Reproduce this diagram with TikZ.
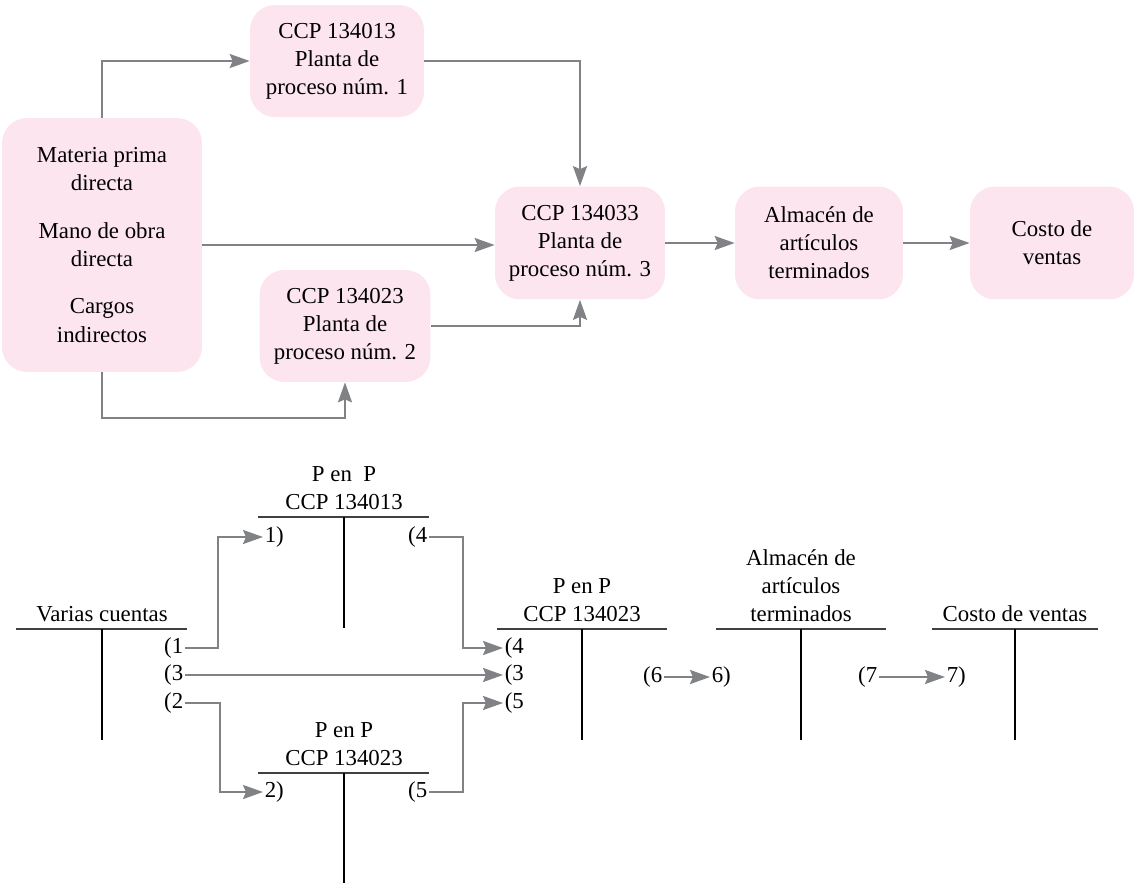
\documentclass[tikz,border=0pt]{standalone}
\usepackage{fontspec}
\setmainfont{Liberation Serif}
\usetikzlibrary{arrows.meta,positioning}
\definecolor{boxpink}{RGB}{252,229,238}
\definecolor{flowgray}{RGB}{128,130,133}

\begin{document}
\begin{tikzpicture}[
x=0.02cm, y=-0.02cm,
font=\fontsize{13}{16}\selectfont,
box/.style = {shape=rectangle, rounded corners=0.5cm, fill=boxpink, align=center, inner sep=2pt},
flow/.style = {draw=flowgray, line width=1.3pt, -{Stealth[length=4mm,width=2.8mm,inset=0.6mm]}},
hline/.style = {draw=black!75, line width=1pt},
vline/.style = {draw=black, line width=0.7pt},
title/.style = {align=center, anchor=south, inner sep=0pt},
entry/.style = {inner sep=0.8pt},
]
  \useasboundingbox (0,0) rectangle (1136,883);

  % flow chart
  \node[box, minimum width=4cm, minimum height=5.08cm] (mat) at (102,245)
    {Materia prima\\directa\\[11pt]Mano de obra\\directa\\[11pt]Cargos\\indirectos};
  \node[box, minimum width=3.48cm, minimum height=2.24cm] (pl1) at (337,61)
    {CCP 134013\\Planta de\\proceso núm. 1};
  \node[box, minimum width=3.42cm, minimum height=2.24cm] (pl2) at (345,326)
    {CCP 134023\\Planta de\\proceso núm. 2};
  \node[box, minimum width=3.4cm, minimum height=2.26cm] (pl3) at (580,243)
    {CCP 134033\\Planta de\\proceso núm. 3};
  \node[box, minimum width=3.36cm, minimum height=2.26cm] (alm) at (819,243)
    {Almacén de\\artículos\\terminados};
  \node[box, minimum width=3.28cm, minimum height=2.26cm] (cos) at (1052,243)
    {Costo de\\ventas};

  \draw[flow] (mat.north) |- (pl1.west);
  \draw[flow] (pl1.east) -| (pl3.north);
  \draw[flow] (mat.east) -- (mat.east -| pl3.west);
  \draw[flow] (pl2.east) -| (pl3.south);
  \draw[flow] (mat.south) -- ++(0,46) -| (pl2.south);
  \draw[flow] (pl3.east) -- (alm.west);
  \draw[flow] (alm.east) -- (cos.west);

  % T accounts
  \node[title] (tvc) at (102,622) {Varias cuentas};
  \draw[hline] (16,629) -- (187,629);
  \draw[vline] (102,629) -- (102,740);

  \node[title] (tpa) at (344,510) {P en\ \ P\\CCP 134013};
  \draw[hline] (258,517) -- (429,517);
  \draw[vline] (344,517) -- (344,628);

  \node[title] (tpc) at (582,622) {P en P\\CCP 134023};
  \draw[hline] (497,629) -- (667,629);
  \draw[vline] (582,629) -- (582,740);

  \node[title] (tal) at (801,622) {Almacén de\\artículos\\terminados};
  \draw[hline] (716,629) -- (886,629);
  \draw[vline] (801,629) -- (801,740);

  \node[title] (tcv) at (1015,622) {Costo de ventas};
  \draw[hline] (932,629) -- (1098,629);
  \draw[vline] (1015,629) -- (1015,740);

  \node[title] (tpb) at (344,766) {P en P\\CCP 134023};
  \draw[hline] (258,773) -- (429,773);
  \draw[vline] (344,773) -- (344,883);

  % entries
  \node[entry, anchor=east] (vc1) at (185,648) {(1};
  \node[entry, anchor=east] (vc3) at (185,675) {(3};
  \node[entry, anchor=east] (vc2) at (185,703) {(2};
  \node[entry, anchor=west] (pa1) at (263,537) {1)};
  \node[entry, anchor=east] (pa4) at (429,537) {(4};
  \node[entry, anchor=west] (pc4) at (503,648) {(4};
  \node[entry, anchor=west] (pc3) at (503,675) {(3};
  \node[entry, anchor=west] (pc5) at (503,703) {(5};
  \node[entry, anchor=west] (pb2) at (263,792) {2)};
  \node[entry, anchor=east] (pb5) at (429,792) {(5};
  \node[entry, anchor=east] (pc6) at (664,677) {(6};
  \node[entry, anchor=west] (al6) at (710,677) {6)};
  \node[entry, anchor=east] (al7) at (879,677) {(7};
  \node[entry, anchor=west] (cv7) at (945,677) {7)};

  \draw[flow] (vc1.east) -- ++(33,0) |- (pa1.west);
  \draw[flow] (vc3.east) -- (pc3.west);
  \draw[flow] (vc2.east) -- ++(35,0) |- (pb2.west);
  \draw[flow] (pa4.east) -- ++(34,0) |- (pc4.west);
  \draw[flow] (pb5.east) -- ++(34,0) |- (pc5.west);
  \draw[flow] (pc6.east) -- (al6.west);
  \draw[flow] (al7.east) -- (cv7.west);
\end{tikzpicture}
\end{document}
